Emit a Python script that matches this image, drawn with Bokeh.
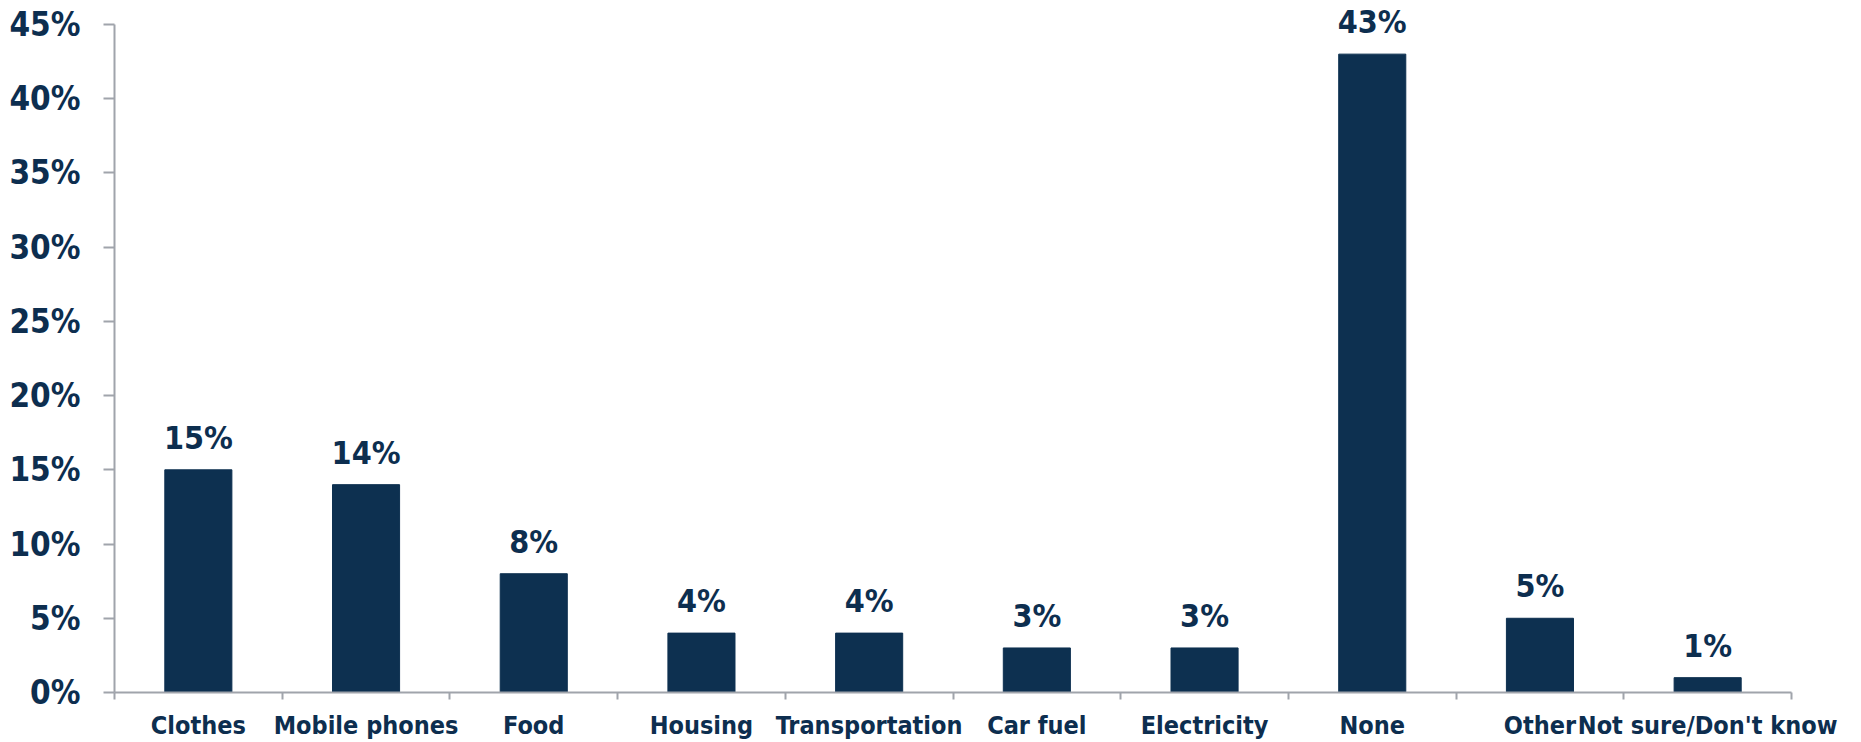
from bokeh.plotting import figure
from bokeh.models import FixedTicker, PrintfTickFormatter, Range1d, ColumnDataSource
from bokeh.core.properties import value
from bokeh.embed import file_html
from bokeh.resources import INLINE

categories = ["Clothes", "Mobile phones", "Food", "Housing", "Transportation",
              "Car fuel", "Electricity", "None", "Other", "Not sure/Don't know"]
values = [15, 14, 8, 4, 4, 3, 3, 43, 5, 1]
y_ticks = [0, 5, 10, 15, 20, 25, 30, 35, 40, 45]

NAVY = "#0D3050"
TEXT = "#0D2E4F"
GRAY = "#A0A4AB"
FONT = "'DejaVu Sans Condensed', 'DejaVu Sans'"

# frame: axis max (45%) sits 22px below the frame top so top labels are not clipped
FRAME_TOP = 2
FRAME_BOTTOM_BORDER = 48
PLOT_H = 742
frame_h = PLOT_H - FRAME_TOP - FRAME_BOTTOM_BORDER
axis_max = y_ticks[-1]
y_end = axis_max * frame_h / (frame_h - 22)

xs = [i + 0.5 for i in range(len(categories))]
src = ColumnDataSource(dict(x=xs, top=values, label=[f"{v}%" for v in values]))

p = figure(width=1861, height=PLOT_H, output_backend="svg", toolbar_location=None,
           x_range=Range1d(0, len(categories)), y_range=Range1d(0, y_end),
           min_border_left=114, min_border_right=70, min_border_top=FRAME_TOP,
           min_border_bottom=FRAME_BOTTOM_BORDER)
p.outline_line_color = None
p.xgrid.visible = False
p.ygrid.visible = False

p.vbar(x="x", top="top", width=0.40, source=src, fill_color=NAVY, line_color=NAVY)
p.text(x="x", y="top", text="label", source=src, text_align="center",
       text_baseline="alphabetic", y_offset=-32, text_color=TEXT,
       text_font=value(FONT), text_font_size="32px", text_font_style="bold")

xa = p.xaxis[0]
xa.ticker = FixedTicker(ticks=xs, minor_ticks=list(range(len(categories) + 1)))
xa.major_label_overrides = {x: c for x, c in zip(xs, categories)}
xa.major_tick_out = 0
xa.major_tick_in = 0
xa.minor_tick_out = 7
xa.minor_tick_in = 0
xa.minor_tick_line_color = GRAY
xa.minor_tick_line_width = 2
xa.axis_line_color = GRAY
xa.axis_line_width = 2
xa.major_label_standoff = 11
xa.major_label_text_font = FONT
xa.major_label_text_font_size = "25px"
xa.major_label_text_font_style = "bold"
xa.major_label_text_color = TEXT

ya = p.yaxis[0]
ya.ticker = FixedTicker(ticks=y_ticks)
ya.bounds = (0, axis_max)
ya.formatter = PrintfTickFormatter(format="%d%%")
ya.major_tick_out = 11
ya.major_tick_in = 0
ya.minor_tick_out = 0
ya.minor_tick_in = 0
ya.major_tick_line_color = GRAY
ya.major_tick_line_width = 2
ya.axis_line_color = GRAY
ya.axis_line_width = 2
ya.major_label_standoff = 23
ya.major_label_text_font = FONT
ya.major_label_text_font_size = "33px"
ya.major_label_text_font_style = "bold"
ya.major_label_text_color = TEXT

open("out.html", "w").write(file_html(p, INLINE))
